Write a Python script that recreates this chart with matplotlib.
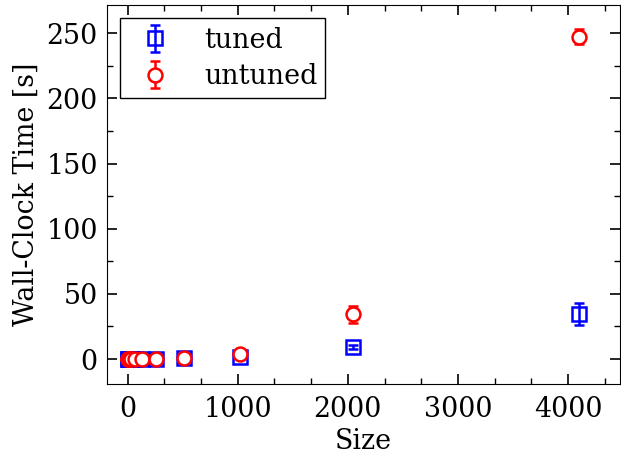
import numpy as np
import matplotlib.pyplot as plt
from matplotlib.ticker import AutoMinorLocator

sizes = [2, 4, 8, 16, 32, 64, 128, 256, 512, 1024, 2048, 4096]
tuned = [0.0, 0.0, 0.0, 0.0, 0.0, 0.1, 0.1, 0.2, 0.5, 1.5, 9.0, 34.5]
tuned_err = [0.0, 0.0, 0.0, 0.0, 0.0, 0.0, 0.0, 0.1, 0.2, 0.5, 1.5, 8.5]
untuned = [0.0, 0.0, 0.0, 0.0, 0.0, 0.1, 0.2, 0.4, 1.0, 4.0, 34.5, 247.5]
untuned_err = [0.0, 0.0, 0.0, 0.0, 0.0, 0.0, 0.1, 0.2, 0.5, 1.5, 6.5, 6.0]

plt.rcParams["font.family"] = "DejaVu Serif"
plt.rcParams["font.size"] = 19.4

fig, ax = plt.subplots(figsize=(6.21, 4.54), dpi=100)
fig.subplots_adjust(left=0.172, right=0.998, top=0.989, bottom=0.154)

ax.errorbar(sizes, tuned, yerr=tuned_err, fmt="s", color="blue", mfc="none",
            ms=9.5, mew=1.8, elinewidth=1.8, capsize=3.5, capthick=1.8, label="tuned")
ax.errorbar(sizes, untuned, yerr=untuned_err, fmt="o", color="red", mfc="white",
            ms=10, mew=1.8, elinewidth=1.8, capsize=3.5, capthick=1.8, label="untuned")

ax.set_xlim(-190, 4470)
ax.set_ylim(-19.2, 271.7)
ax.set_xticks([0, 1000, 2000, 3000, 4000])
ax.set_yticks([0, 50, 100, 150, 200, 250])
ax.xaxis.set_minor_locator(AutoMinorLocator(3))
ax.yaxis.set_minor_locator(AutoMinorLocator(2))
ax.tick_params(which="both", direction="in", top=True, right=True)
ax.tick_params(which="major", length=7, width=1.2)
ax.tick_params(which="minor", length=4, width=1)
ax.tick_params(axis="x", which="major", pad=8.5)
ax.tick_params(axis="y", which="major", pad=6.5)
ax.set_xlabel("Size", labelpad=4)
ax.set_ylabel("Wall-Clock Time [s]", labelpad=5)

leg = ax.legend(loc="upper left", fancybox=False, framealpha=1,
                edgecolor="black", borderaxespad=0.5, borderpad=0.3,
                labelspacing=0.35, handletextpad=0.8)

fig.savefig("out.png", dpi=100)
